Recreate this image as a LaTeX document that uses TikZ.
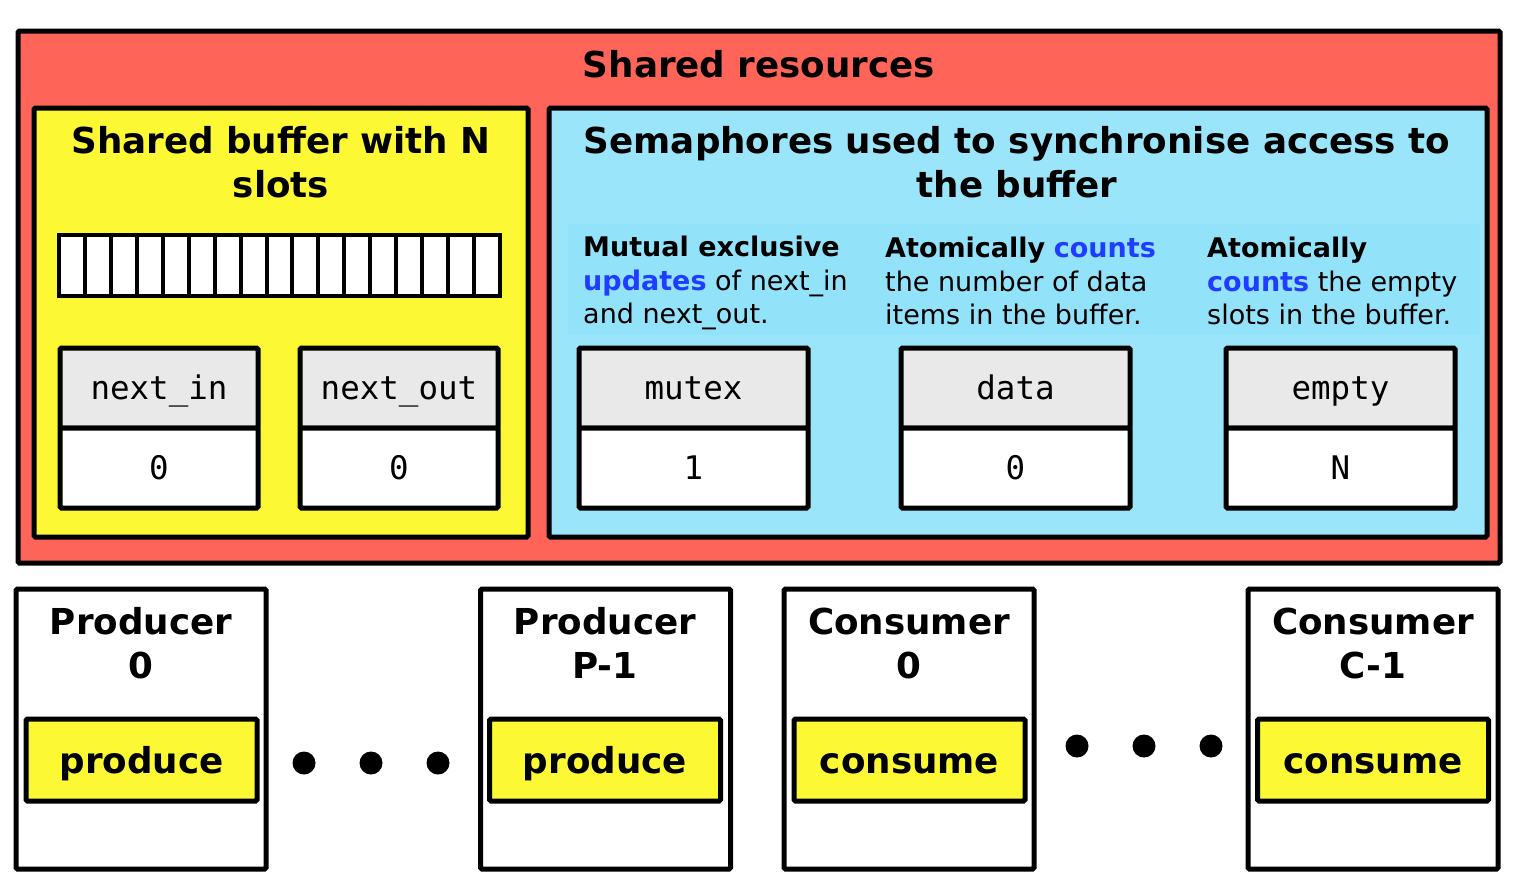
\documentclass[tikz,border=0pt]{standalone}
\usepackage{fontspec}
\setmainfont{DejaVu Sans}
\setmonofont{DejaVu Sans Mono}
\usetikzlibrary{positioning}

\definecolor{resred}{HTML}{FF6459}
\definecolor{bufyellow}{HTML}{FCF934}
\definecolor{semblue}{HTML}{9AE5FA}
\definecolor{noteblue}{HTML}{92E2F9}
\definecolor{hdrgray}{HTML}{E9E9E9}
\definecolor{keyblue}{HTML}{1F3DFF}

\newcommand{\titlefont}{\fontsize{35.7}{44}\selectfont\bfseries}
\newcommand{\notefont}{\fontsize{27}{33.5}\selectfont}
\newcommand{\kw}[1]{\textbf{\textcolor{keyblue}{#1}}}

\begin{document}
\begin{tikzpicture}[
  x=1pt, y=-1pt,
  frame/.style={draw, line width=5pt, rounded corners=1.5pt, inner sep=0pt, outer sep=0pt},
  title/.style={font=\titlefont, align=center, inner sep=0pt},
  note/.style={font=\notefont, align=left, anchor=west, inner sep=0pt},
  hdr/.style={frame, fill=hdrgray, minimum width=#1, minimum height=80pt,
              font=\fontsize{32.5}{38}\selectfont\ttfamily,
              text height=23.7pt, text depth=0pt},
  val/.style={hdr=#1, fill=white},
  worker/.style={frame, fill=white, minimum width=250pt, minimum height=280pt},
  task/.style={frame, fill=bufyellow, minimum width=231pt, minimum height=82pt, font=\titlefont,
               text height=26pt, text depth=0pt},
  dot/.style={circle, fill=black, minimum size=23pt, inner sep=0pt}
]
\useasboundingbox (0,0) rectangle (1522,886);

% shared resources
\node[frame, fill=resred, minimum width=1482pt, minimum height=532pt] (shared) at (759,297) {};
\node[title] (sharedt) at (759,64) {Shared resources};

% buffer with its two indices
\node[frame, fill=bufyellow, minimum width=494pt, minimum height=429pt] (buffer) at (281,322.5) {};
\node[title] (buffert) at (281,162) {Shared buffer with N\\ slots};
\node[frame, line width=4pt, rounded corners=0pt, fill=white, minimum width=441pt, minimum height=61pt] (slots) at (279.5,265.5) {};
\foreach \i in {1,...,16}
  \draw[line width=4pt] (59+\i*441/17,235) -- (59+\i*441/17,296);

\node[hdr=198pt] (inh) at (159,388) {next\_in};
\node[val=198pt, below=0pt of inh] (inv) {0};
\node[hdr=198pt] (outh) at (399,388) {next\_out};
\node[val=198pt, below=0pt of outh] (outv) {0};

% semaphores
\node[frame, fill=semblue, minimum width=938pt, minimum height=429pt] (sems) at (1018,322.5) {};
\node[title] (semst) at (1017,162) {Semaphores used to synchronise access to\\ the buffer};
\fill[noteblue] (568,224) rectangle (1480,335);

\node[note] (mutexn) at (583,283) {\textbf{Mutual exclusive}\\ \kw{updates} of next\_in\\ and next\_out.};
\node[note] (datan) at (885,281) {\textbf{Atomically} \kw{counts}\\ the number of data\\ items in the buffer.};
\node[note] (emptyn) at (1207,281) {\textbf{Atomically}\\ \kw{counts} the empty\\ slots in the buffer.};

\node[hdr=229pt] (mutexh) at (693.5,388) {mutex};
\node[val=229pt, below=0pt of mutexh] (mutexv) {1};
\node[hdr=229pt] (datah) at (1015.5,388) {data};
\node[val=229pt, below=0pt of datah] (datav) {0};
\node[hdr=229pt] (emptyh) at (1340.5,388) {empty};
\node[val=229pt, below=0pt of emptyh] (emptyv) {N};

% producers
\node[worker] (prod0) at (141,729) {};
\node[title] (prod0t) at (141,643) {Producer\\ 0};
\node[task] (prod0f) at (141.5,760) {produce};
\node[worker] (prodp) at (605.5,729) {};
\node[title] (prodpt) at (605,643) {Producer\\ P-1};
\node[task] (prodpf) at (605,760) {produce};
\node[dot] (pd1) at (304,763) {};
\node[dot] (pd2) at (371,763) {};
\node[dot] (pd3) at (438,763) {};

% consumers
\node[worker] (cons0) at (909,729) {};
\node[title] (cons0t) at (909,643) {Consumer\\ 0};
\node[task] (cons0f) at (909.5,760) {consume};
\node[worker] (consc) at (1373,729) {};
\node[title] (consct) at (1373,643) {Consumer\\ C-1};
\node[task] (conscf) at (1373,760) {consume};
\node[dot] (cd1) at (1077,746) {};
\node[dot] (cd2) at (1144,746) {};
\node[dot] (cd3) at (1211,746) {};
\end{tikzpicture}
\end{document}
